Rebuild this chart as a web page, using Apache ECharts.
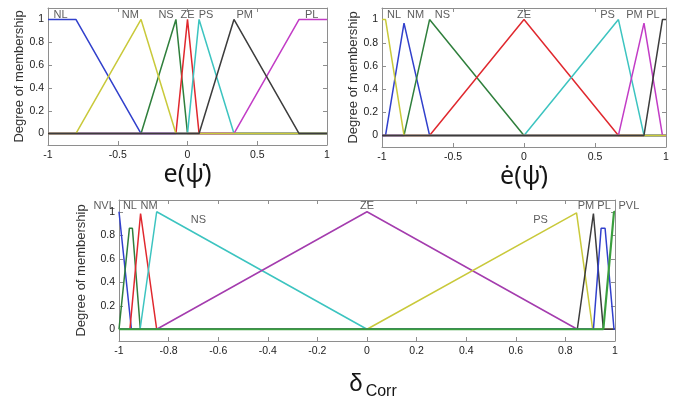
<!DOCTYPE html>
<html>
<head>
<meta charset="utf-8">
<script src="https://cdn.jsdelivr.net/npm/echarts@6/dist/echarts.min.js"></script>
<style>
  html, body { margin: 0; padding: 0; background: #ffffff; }
  #chart { width: 674px; height: 401px; }
</style>
</head>
<body>
<div id="chart"></div>
<script>
// ---- e(psi-dot): heading-rate error ----
const eNames = ['NL', 'NM', 'NS', 'ZE', 'PS', 'PM', 'PL'];
const eBreaks = [
  [-1, -0.8, -0.333, 1],
  [-1, -0.8, -0.333, -0.083, 1],
  [-1, -0.333, -0.083, 0, 1],
  [-1, -0.083, 0, 0.083, 1],
  [-1, 0, 0.083, 0.333, 1],
  [-1, 0.083, 0.333, 0.8, 1],
  [-1, 0.333, 0.8, 1]
];
const eGrades = [
  [1, 1, 0, 0],
  [0, 0, 1, 0, 0],
  [0, 0, 1, 0, 0],
  [0, 0, 1, 0, 0],
  [0, 0, 1, 0, 0],
  [0, 0, 1, 0, 0],
  [0, 0, 1, 1]
];
const eLabelX = [-0.91, -0.41, -0.154, 0, 0.133, 0.41, 0.89];
const eLabelY = [1.04, 1.04, 1.04, 1.04, 1.04, 1.04, 1.04];

// ---- e-dot(psi-dot): change of heading-rate error ----
const edNames = ['NL', 'NM', 'NS', 'ZE', 'PS', 'PM', 'PL'];
const edBreaks = [
  [-1, -0.975, -0.845, 1],
  [-1, -0.975, -0.845, -0.665, 1],
  [-1, -0.845, -0.665, 0, 1],
  [-1, -0.665, 0, 0.665, 1],
  [-1, 0, 0.665, 0.845, 1],
  [-1, 0.665, 0.845, 0.975, 1],
  [-1, 0.845, 0.975, 1]
];
const edGrades = [
  [1, 1, 0, 0],
  [0, 0, 0.97, 0, 0],
  [0, 0, 1, 0, 0],
  [0, 0, 1, 0, 0],
  [0, 0, 1, 0, 0],
  [0, 0, 0.97, 0, 0],
  [0, 0, 1, 1]
];
const edLabelX = [-0.915, -0.764, -0.574, 0, 0.588, 0.778, 0.908];
const edLabelY = [1.04, 1.04, 1.04, 1.04, 1.04, 1.04, 1.04];

// ---- delta_Corr: rudder correction ----
const dNames = ['NVL', 'NL', 'NM', 'NS', 'ZE', 'PS', 'PM', 'PL', 'PVL'];
const dBreaks = [
  [-1, -0.995, -0.95, 1],
  [-1, -0.993, -0.958, -0.946, -0.914, 1],
  [-1, -0.956, -0.913, -0.848, 1],
  [-1, -0.915, -0.848, 0, 1],
  [-1, -0.848, 0, 0.848, 1],
  [-1, 0, 0.845, 0.91, 1],
  [-1, 0.848, 0.913, 0.953, 1],
  [-1, 0.913, 0.944, 0.96, 0.996, 1],
  [-1, 0.953, 0.996, 1]
];
const dGrades = [
  [1, 1, 0, 0],
  [0, 0, 0.86, 0.86, 0, 0],
  [0, 0, 0.985, 0, 0],
  [0, 0, 1, 0, 0],
  [0, 0, 1, 0, 0],
  [0, 0, 0.99, 0, 0],
  [0, 0, 0.985, 0, 0],
  [0, 0, 0.86, 0.86, 0, 0],
  [0, 0, 1, 1]
];
const dLabelX = [-1.06, -0.956, -0.879, -0.68, 0, 0.70, 0.883, 0.956, 1.056];
const dLabelY = [1.05, 1.05, 1.05, 0.93, 1.05, 0.93, 1.05, 1.05, 1.05];

// shared tick values
const yTicks = [0, 0.2, 0.4, 0.6, 0.8, 1];
const topXStep = 0.5;
const bottomXStep = 0.2;

// ---- styling ----
const FONT = '"Liberation Sans", Arial, Helvetica, sans-serif';
const TITLE_FONT = '"Noto Sans", "DejaVu Sans", sans-serif';
const FRAME = '#8e8e8e';
const C = {
  blue: '#3140cc', yellow: '#c9c93a', green: '#2f7f3c', red: '#e0282e',
  cyan: '#3cc4c0', black: '#3c3c3c', magenta: '#c23cc6', purple: '#a43cae',
  lgreen: '#3a9e3e'
};
const eColors = [C.blue, C.yellow, C.green, C.red, C.cyan, C.black, C.magenta];
const edColors = [C.yellow, C.blue, C.green, C.red, C.cyan, C.magenta, C.black];
const dColors = [C.blue, C.green, C.red, C.cyan, C.purple, C.yellow, C.black, C.blue, C.lgreen];
// series drawn later sit on top along the zero line
const eOrder = [0, 2, 3, 4, 6, 1, 5];
const edOrder = [1, 2, 3, 4, 5, 0, 6];
const dOrder = [0, 1, 2, 3, 4, 5, 6, 7, 8];

const grids = [
  { left: 48, top: 8, width: 279, height: 137 },
  { left: 382, top: 8, width: 284, height: 139 },
  { left: 119, top: 200, width: 496, height: 141 }
];

const xAxes = [];
const yAxes = [];
const series = [];

function frameAxis(extra) {
  return Object.assign({
    type: 'value',
    axisLine: { show: true, onZero: false, lineStyle: { color: FRAME, width: 1 } },
    axisTick: { show: true, inside: true, length: 4, lineStyle: { color: FRAME } },
    splitLine: { show: false }
  }, extra);
}

function addPanel(g, names, breaks, grades, colors, order, labelX, labelY, xStep, xName, yNameGap, lineWidths) {
  xAxes.push(frameAxis({
    gridIndex: g, position: 'bottom', min: -1, max: 1, interval: xStep,
    axisLabel: { margin: 5, fontSize: 10.5, color: '#222', fontFamily: FONT, hideOverlap: false },
    name: xName.text, nameLocation: 'middle', nameGap: xName.gap,
    nameTextStyle: xName.style
  }));
  xAxes.push(frameAxis({
    gridIndex: g, position: 'top', min: -1, max: 1, interval: xStep,
    axisLabel: { show: false }
  }));
  yAxes.push(frameAxis({
    gridIndex: g, position: 'left', min: -0.1, max: 1.1,
    axisLabel: { customValues: yTicks, margin: 4, fontSize: 10.5, color: '#222', fontFamily: FONT },
    axisTick: { show: true, inside: true, length: 4, customValues: yTicks, lineStyle: { color: FRAME } },
    name: 'Degree of membership', nameLocation: 'middle', nameGap: yNameGap,
    nameTextStyle: { fontSize: 13, color: '#333', fontFamily: FONT }
  }));
  yAxes.push(frameAxis({
    gridIndex: g, position: 'right', min: -0.1, max: 1.1,
    axisLabel: { show: false },
    axisTick: { show: true, inside: true, length: 4, customValues: yTicks, lineStyle: { color: FRAME } }
  }));
  const ai = g * 2;
  order.forEach(function (i) {
    series.push({
      type: 'line',
      name: names[i],
      xAxisIndex: ai, yAxisIndex: ai,
      data: breaks[i].map(function (x, j) { return [x, grades[i][j]]; }),
      symbol: 'none',
      lineStyle: { color: colors[i], width: lineWidths ? lineWidths[i] : 1.5 },
      itemStyle: { color: colors[i] },
      silent: true,
      clip: false
    });
  });
  series.push({
    type: 'scatter',
    xAxisIndex: ai, yAxisIndex: ai,
    data: names.map(function (n, i) { return [labelX[i], labelY[i], n]; }),
    symbolSize: 0,
    itemStyle: { color: 'transparent' },
    clip: false,
    silent: true,
    z: 5,
    label: {
      show: true, position: 'inside',
      formatter: function (p) { return p.value[2]; },
      fontSize: 11, color: '#333', fontFamily: FONT
    }
  });
}

const bigName = { fontSize: 25, color: '#151515', fontFamily: TITLE_FONT };

addPanel(0, eNames, eBreaks, eGrades, eColors, eOrder, eLabelX, eLabelY, topXStep,
  { text: 'e(\u03C8\u0307)', gap: 16, style: bigName }, 21);
addPanel(1, edNames, edBreaks, edGrades, edColors, edOrder, edLabelX, edLabelY, topXStep,
  { text: '\u0117(\u03C8\u0307)', gap: 14, style: bigName }, 22);
addPanel(2, dNames, dBreaks, dGrades, dColors, dOrder, dLabelX, dLabelY, bottomXStep,
  {
    text: '{d|\u03B4}{s|Corr}', gap: 27,
    style: {
      fontFamily: FONT, color: '#151515',
      rich: {
        d: { fontSize: 24, fontFamily: FONT, color: '#151515', lineHeight: 26, padding: [0, 0, 0, 12] },
        s: { fontSize: 16, fontFamily: FONT, color: '#151515', padding: [16, 0, 0, 3] }
      }
    }
  }, 31, [1.5, 1.5, 1.5, 1.5, 1.5, 1.5, 1.5, 1.5, 2.2]);

const chart = echarts.init(document.getElementById('chart'), null, { renderer: 'canvas' });
chart.setOption({
  animation: false,
  backgroundColor: '#ffffff',
  grid: grids.map(function (g) { return Object.assign({ containLabel: false, outerBoundsMode: 'none' }, g); }),
  xAxis: xAxes,
  yAxis: yAxes,
  series: series
});
</script>
</body>
</html>
